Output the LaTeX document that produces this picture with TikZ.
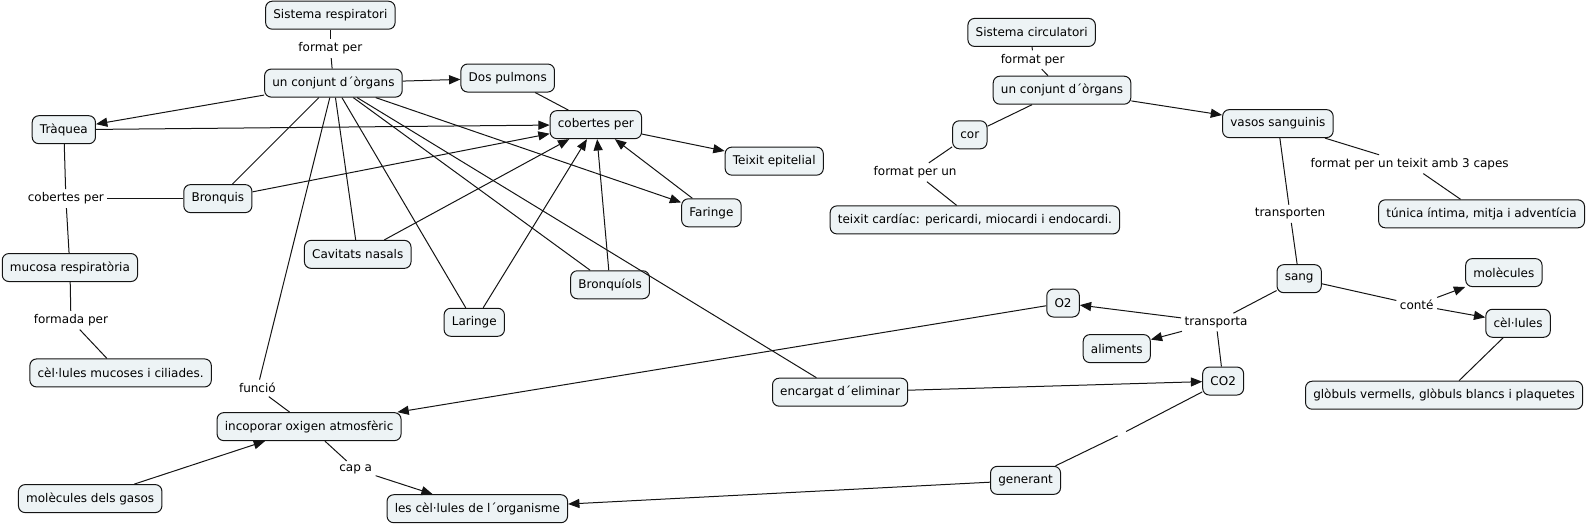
\documentclass[tikz,border=0pt]{standalone}
\usepackage{fontspec}
\setmainfont{DejaVu Sans}
\usetikzlibrary{arrows.meta}
\definecolor{boxfill}{RGB}{237,243,245}
\definecolor{linec}{RGB}{20,20,20}
\tikzset{
  concept/.style={draw=linec, fill=boxfill, rounded corners=5pt, line width=0.75pt,
    minimum height=21pt, inner xsep=5.8pt, inner ysep=2pt, font=\fontsize{9pt}{11pt}\selectfont},
  lbl/.style={inner sep=2.5pt, font=\fontsize{9pt}{11pt}\selectfont},
  conn/.style={draw=linec, line width=0.75pt},
  arr/.style={conn, -{Triangle[length=8.5pt,width=6.8pt]}},
}
\begin{document}
\begin{tikzpicture}[x=0.76pt,y=-0.76pt]
\useasboundingbox (0,0) rectangle (1568,520);
% left part
\node[concept] (sr) at (326,15) {Sistema respiratori};
\node[lbl] (lfp1) at (326,48) {format per};
\node[concept] (uc1) at (329,82) {un conjunt d´òrgans};
\node[concept] (dp) at (501,77) {Dos pulmons};
\node[concept] (cp) at (588,123) {cobertes per};
\node[concept] (tr) at (63,128) {Tràquea};
\node[concept] (te) at (764,159) {Teixit epitelial};
\node[concept] (br) at (215,196) {Bronquis};
\node[lbl] (lcp) at (65,196) {cobertes per};
\node[concept] (fa) at (702,210) {Faringe};
\node[concept] (cn) at (353,251) {Cavitats nasals};
\node[concept] (mr) at (69,264) {mucosa respiratòria};
\node[concept] (bl) at (602,281) {Bronquíols};
\node[concept] (la) at (468,318) {Laringe};
\node[lbl] (lfm) at (70,316) {formada per};
\node[concept] (cm) at (119,368) {cèl·lules mucoses i ciliades.};
\node[lbl] (lfu) at (254,383) {funció};
\node[concept] (ee) at (829,387) {encargat d´eliminar};
\node[concept] (io) at (305,421) {incoporar oxigen atmosfèric};
\node[lbl] (lca) at (351,463) {cap a};
\node[concept] (mg) at (89,492) {molècules dels gasos};
\node[concept] (co) at (471,502) {les cèl·lules de l´organisme};
% right part
\node[concept] (sc) at (1018,32) {Sistema circulatori};
\node[lbl] (lfp2) at (1019,59) {format per};
\node[concept] (uc2) at (1048,89) {un conjunt d´òrgans};
\node[concept] (vs) at (1261,122) {vasos sanguinis};
\node[concept] (cor) at (957,133) {cor};
\node[lbl] (lfpu) at (903,170) {format per un};
\node[lbl] (ltc) at (1391,162) {format per un teixit amb 3 capes};
\node[concept] (tc) at (962,217) {teixit cardíac: pericardi, miocardi i endocardi.};
\node[lbl] (ltr) at (1273,211) {transporten};
\node[concept] (tu) at (1462,211) {túnica íntima, mitja i adventícia};
\node[concept] (sa) at (1282,275) {sang};
\node[concept] (mo) at (1484,269) {molècules};
\node[concept] (o2) at (1049,299) {O2};
\node[lbl] (ltp) at (1200,318) {transporta};
\node[lbl] (lco) at (1398,301) {conté};
\node[concept] (ce) at (1498,319) {cèl·lules};
\node[concept] (al) at (1102,344) {aliments};
\node[concept] (co2) at (1207,376) {CO2};
\node[concept] (gl) at (1425,390) {glòbuls vermells, glòbuls blancs i plaquetes};
\node[concept] (ge) at (1012,474) {generant};
\node[inner sep=0pt, minimum size=6pt] (lge) at (1107,428) {};
% connectors left
\draw[conn] (sr) -- (lfp1);
\draw[conn] (lfp1) -- (uc1);
\draw[arr] (uc1) -- (dp);
\draw[arr] (uc1) -- (tr);
\draw[conn] (uc1) -- (br);
\draw[conn] (uc1) -- (cn);
\draw[conn] (uc1) -- (la);
\draw[conn] (uc1) -- (bl);
\draw[arr] (uc1) -- (fa);
\draw[conn] (uc1) -- (ee);
\draw[conn] (uc1) -- (lfu);
\draw[conn] (lfu) -- (io);
\draw[conn] (dp) -- (cp);
\draw[arr] (tr) -- (cp);
\draw[arr] (br) -- (cp);
\draw[arr] (cn) -- (cp);
\draw[arr] (la) -- (cp);
\draw[arr] (bl) -- (cp);
\draw[arr] (fa) -- (cp);
\draw[arr] (cp) -- (te);
\draw[conn] (tr) -- (lcp);
\draw[conn] (br) -- (lcp);
\draw[conn] (lcp) -- (mr);
\draw[conn] (mr) -- (lfm);
\draw[conn] (lfm) -- (cm);
\draw[conn] (io) -- (lca);
\draw[arr] (lca) -- (co);
\draw[arr] (mg) -- (io);
\draw[arr] (o2) -- (io);
\draw[arr] (ee) -- (co2);
\draw[arr] (ge) -- (co);
% connectors right
\draw[conn] (sc) -- (lfp2);
\draw[conn] (lfp2) -- (uc2);
\draw[arr] (uc2) -- (vs);
\draw[conn] (uc2) -- (cor);
\draw[conn] (cor) -- (lfpu);
\draw[conn] (lfpu) -- (tc);
\draw[conn] (vs) -- (ltc);
\draw[conn] (ltc) -- (tu);
\draw[conn] (vs) -- (ltr);
\draw[conn] (ltr) -- (sa);
\draw[conn] (sa) -- (ltp);
\draw[arr] (ltp) -- (o2);
\draw[arr] (ltp) -- (al);
\draw[conn] (ltp) -- (co2);
\draw[conn] (sa) -- (lco);
\draw[arr] (lco) -- (mo);
\draw[arr] (lco) -- (ce);
\draw[conn] (ce) -- (gl);
\draw[conn] (co2) -- (lge);
\draw[conn] (lge) -- (ge);
\end{tikzpicture}
\end{document}
